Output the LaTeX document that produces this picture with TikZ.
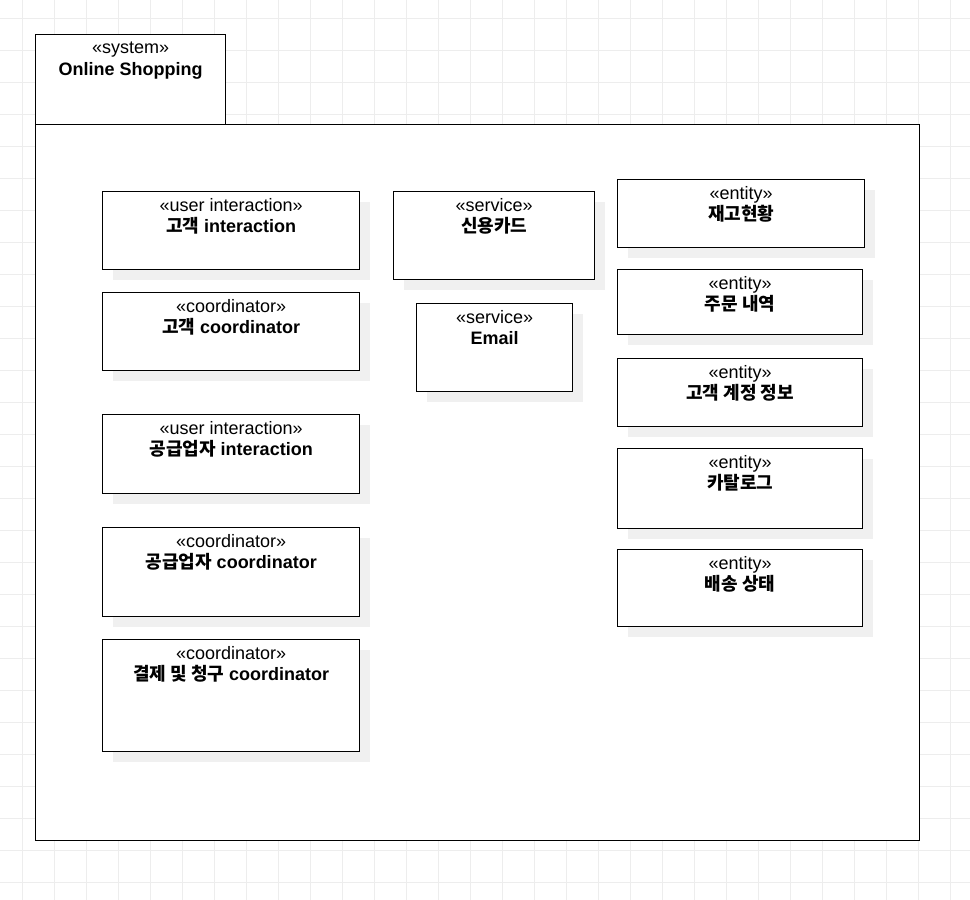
\documentclass[tikz,border=0pt]{standalone}
\usepackage{fontspec}
\setmainfont{Liberation Sans}
\newfontfamily\kr{Noto Sans CJK KR}
\usetikzlibrary{shadows}
\tikzset{
  classbox/.style={draw=black, line width=1.25pt, fill=white, anchor=north west, inner sep=0pt,
    drop shadow={shadow xshift=10pt, shadow yshift=-10pt, fill=black!6, opacity=1}},
  framebox/.style={draw=black, line width=1.25pt, fill=white, anchor=north west, inner sep=0pt},
  stereo/.style={anchor=base, inner sep=0pt, font=\fontsize{18}{21}\selectfont},
  classname/.style={stereo, font=\fontsize{18}{21}\selectfont\bfseries},
  gridline/.style={draw=black!7, line width=1pt}
}

\begin{document}
\begin{tikzpicture}[x=1pt, y=-1pt]
\useasboundingbox (0,0) rectangle (970,900);
\fill[white] (0,0) rectangle (970,900);

% background grid %
\foreach \gx in {22,54,...,950} \draw[gridline] (\gx,0) -- (\gx,900);
\foreach \gy in {18,50,...,882} \draw[gridline] (0,\gy) -- (970,\gy);

% system frame %
\node[framebox, minimum width=884pt, minimum height=716pt] (frame) at (35,124) {};
\node[framebox, minimum width=190pt, minimum height=90pt] (tab) at (35,34) {};
\node[stereo] (tabs) at ([yshift=-19pt]tab.north) {«system»};
\node[classname] (tabn) at ([yshift=-41pt]tab.north) {Online Shopping};

% name, x, y, width, height, stereotype, title %
\def\umlclass#1#2#3#4#5#6#7{%
  \node[classbox, minimum width=#4pt, minimum height=#5pt] (#1) at (#2,#3) {};
  \node[stereo] (#1s) at ([yshift=-20pt]#1.north) {«#6»};
  \node[classname] (#1n) at ([yshift=-41pt]#1.north) {#7};
}

% interaction and coordinator objects %
\umlclass{custUI}{102}{191}{257}{78}{user interaction}{{\kr 고객} interaction}
\umlclass{custCo}{102}{292}{257}{78}{coordinator}{{\kr 고객} coordinator}
\umlclass{suppUI}{102}{414}{257}{79}{user interaction}{{\kr 공급업자} interaction}
\umlclass{suppCo}{102}{527}{257}{89}{coordinator}{{\kr 공급업자} coordinator}
\umlclass{payCo}{102}{639}{257}{112}{coordinator}{{\kr 결제 및 청구} coordinator}

% services %
\umlclass{cardSvc}{393}{191}{201}{88}{service}{{\kr 신용카드}}
\umlclass{mailSvc}{416}{303}{156}{88}{service}{Email}

% entities %
\umlclass{stock}{617}{179}{247}{68}{entity}{{\kr 재고현황}}
\umlclass{order}{617}{269}{245}{65}{entity}{{\kr 주문 내역}}
\umlclass{account}{617}{358}{245}{68}{entity}{{\kr 고객 계정 정보}}
\umlclass{catalog}{617}{448}{245}{80}{entity}{{\kr 카탈로그}}
\umlclass{delivery}{617}{549}{245}{77}{entity}{{\kr 배송 상태}}

\end{tikzpicture}
\end{document}
